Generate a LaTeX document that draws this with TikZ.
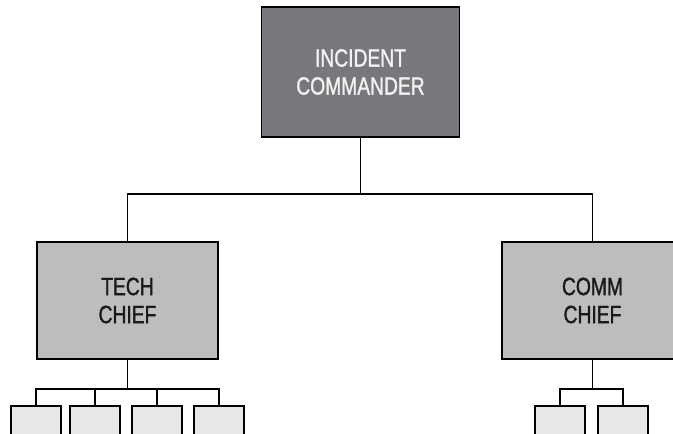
\documentclass[tikz,border=0pt]{standalone}
\usepackage{fontspec}
\setmainfont{Liberation Sans}[FakeStretch=0.77,FakeBold=1.2]
\definecolor{topfill}{HTML}{77787B}
\definecolor{chieffill}{HTML}{BCBDBF}
\definecolor{smallfill}{HTML}{E6E7E8}
\definecolor{toptext}{HTML}{F2F2F2}
\definecolor{chieftext}{HTML}{1A1A1A}
\tikzset{
  box/.style={draw=black, line width=1.9pt, rectangle, inner sep=0pt, align=center,
    font=\fontsize{25}{28}\selectfont},
  topbox/.style={box, fill=topfill, text=toptext, minimum width=198pt, minimum height=130pt},
  chiefbox/.style={box, fill=chieffill, text=chieftext, minimum width=181pt, minimum height=117pt},
  smallbox/.style={box, fill=smallfill, minimum width=50pt, minimum height=40pt},
  link/.style={draw=black, line width=1.9pt}
}
\begin{document}
\begin{tikzpicture}[x=1pt, y=-1pt]
\clip (0,0) rectangle (673,434);
\fill[white] (0,0) rectangle (673,434);
\node[topbox] (ic) at (360.5,72) {INCIDENT\\COMMANDER};
\node[chiefbox] (tech) at (127.5,300.5) {TECH\\CHIEF};
\node[chiefbox] (comm) at (592.5,300.5) {COMM\\CHIEF};
\node[smallbox] (t1) at (36,426) {};
\node[smallbox] (t2) at (95,426) {};
\node[smallbox] (t3) at (157,426) {};
\node[smallbox] (t4) at (219,426) {};
\node[smallbox] (c1) at (560,426) {};
\node[smallbox] (c2) at (623,426) {};
\coordinate (j) at (360.5,194);
\coordinate (tb) at (127.5,389);
\coordinate (cb) at (592.5,389);
\draw[link] (ic.south) -- (j);
\draw[link] (tech.north) |- (j) -| (comm.north);
\draw[link] (tech.south) -- (tb);
\draw[link] (t1.north) |- (tb) -| (t4.north);
\draw[link] (t2.north) -- (t2.north |- tb);
\draw[link] (t3.north) -- (t3.north |- tb);
\draw[link] (comm.south) -- (cb);
\draw[link] (c1.north) |- (cb) -| (c2.north);
\end{tikzpicture}
\end{document}
